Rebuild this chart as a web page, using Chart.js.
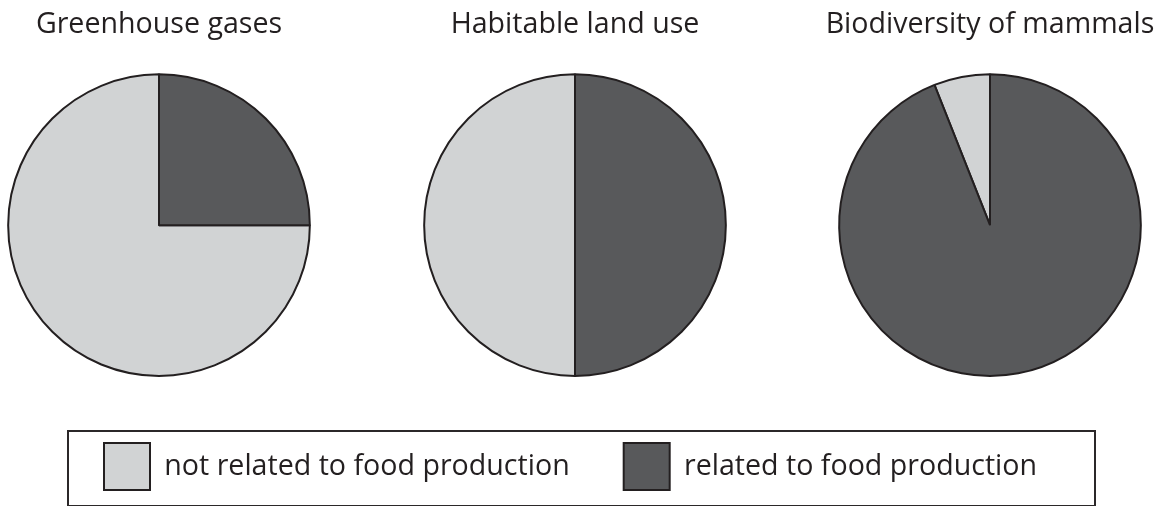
<!DOCTYPE html>
<html>
<head>
<meta charset="utf-8">
<script src="https://cdn.jsdelivr.net/npm/chart.js@4"></script>
<style>
  body { margin: 0; background: #fff; }
  #wrap { position: relative; width: 1164px; height: 506px; background: #fff; overflow: hidden; }
  .pie { position: absolute; top: 0; width: 400px; height: 380px; }
  #legendBox { position: absolute; left: 67px; top: 430px; width: 1025px; height: 73px; border: 2px solid #2b2829; }
  #legendWrap { position: absolute; left: 50px; top: 389px; width: 1100px; height: 160px; }
</style>
</head>
<body>
<div id="wrap">
  <div class="pie" id="p0"><canvas id="pie0"></canvas></div>
  <div class="pie" id="p1"><canvas id="pie1"></canvas></div>
  <div class="pie" id="p2"><canvas id="pie2"></canvas></div>
  <div id="legendBox"></div>
  <div id="legendWrap"><canvas id="legendCanvas"></canvas></div>
</div>
<script>
// chart data
const titles = ['Greenhouse gases', 'Habitable land use', 'Biodiversity of mammals'];
const categories = ['not related to food production', 'related to food production'];
const notRelated = [75, 50, 6];
const related = [25, 50, 94];

const COLORS = {
  light: '#d1d3d4',
  dark: '#58595b',
  line: '#231f20'
};
const FONT = 'Open Sans';
const FONT_SIZE = 28.6;
const centersX = [159, 575, 990];

Chart.defaults.font.family = FONT;
Chart.defaults.color = COLORS.line;

function pieConfig(i) {
  return {
    type: 'pie',
    data: {
      labels: categories,
      datasets: [{
        data: [notRelated[i], related[i]],
        backgroundColor: [COLORS.light, COLORS.dark],
        borderColor: COLORS.line,
        borderWidth: 2
      }]
    },
    options: {
      responsive: true,
      maintainAspectRatio: false,
      animation: false,
      devicePixelRatio: 1,
      // start the "related" slice at 12 o'clock
      rotation: related[i] / (notRelated[i] + related[i]) * 360,
      layout: { padding: { top: 0, bottom: 3, left: 0, right: 0 } },
      plugins: {
        legend: { display: false },
        tooltip: { enabled: false },
        title: {
          display: true,
          text: titles[i],
          font: { size: FONT_SIZE, weight: 'normal' },
          color: COLORS.line,
          padding: { top: 8, bottom: 31 }
        }
      }
    }
  };
}

const charts = [];
for (var i = 0; i < titles.length; i++) {
  document.getElementById('p' + i).style.left = (centersX[i] - 200) + 'px';
  charts.push(new Chart(document.getElementById('pie' + i), pieConfig(i)));
}

// legend only chart (dataset hidden, only the legend is drawn)
const legendChart = new Chart(document.getElementById('legendCanvas'), {
  type: 'pie',
  data: {
    labels: categories,
    datasets: [{
      data: [notRelated[2], related[2]],
      backgroundColor: [COLORS.light, COLORS.dark],
      borderColor: COLORS.line,
      borderWidth: 2,
      hidden: true
    }]
  },
  options: {
    responsive: true,
    maintainAspectRatio: false,
    animation: false,
    devicePixelRatio: 1,
    events: [],
    plugins: {
      tooltip: { enabled: false },
      legend: {
        display: true,
        position: 'top',
        align: 'start',
        maxHeight: 160,
        labels: {
          boxWidth: 46,
          boxHeight: 47,
          padding: 54,
          font: { size: FONT_SIZE },
          color: COLORS.line
        }
      }
    }
  }
});
</script>
</body>
</html>
